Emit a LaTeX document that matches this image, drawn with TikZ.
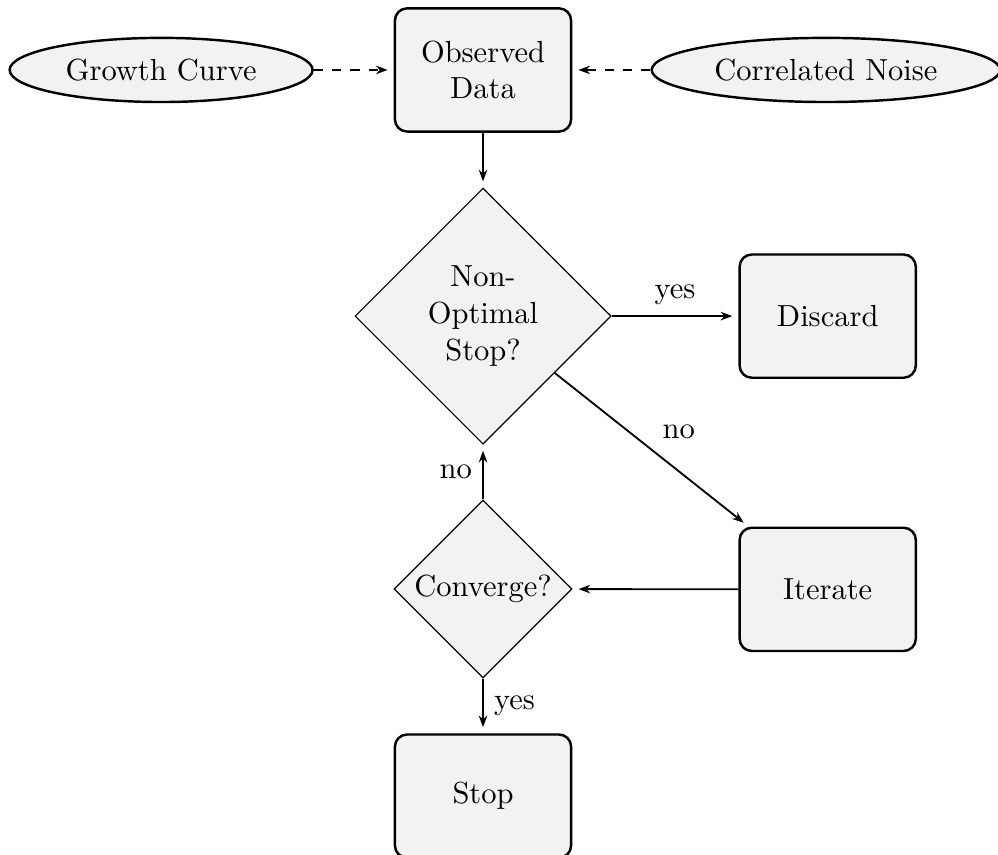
\documentclass[tikz,border=0pt]{standalone}
\usetikzlibrary{arrows.meta, positioning, shapes.geometric}
\tikzset{
    >=Stealth,
    node distance=0.63cm and 1.46cm,
    flow_box/.style={
        rectangle,
        rounded corners,
        draw=black,
        fill=gray!10,
        thick,
        minimum width=2.03cm,
        minimum height=1.42cm,
        text width=1.6cm,
        align=center
    },
    flow_decision/.style={
        diamond,
        draw=black,
        fill=gray!10,
        thin,
        inner sep=0pt,
        align=center
    },
    flow_source/.style={
        ellipse,
        draw=black,
        fill=gray!10,
        thick,
        inner sep=3.8pt
    },
    flow_arrow/.style={
        -{Stealth[length=3.8pt, width=2.8pt]},
        semithick,
        shorten >=2pt
    },
    flow_dashed_arrow/.style={
        -{Stealth[length=3.8pt, width=2.8pt]},
        semithick,
        dashed,
        shorten >=2pt
    }
}

\begin{document}
\begin{tikzpicture}

\useasboundingbox (-5.565,0.806) rectangle (5.933,-9.044);

% Data and its sources
\node[flow_box] (Observed) {Observed\\Data};
\node[flow_source, left=0.92cm of Observed] (Growth) {Growth Curve};
\node[flow_source, right=0.9cm of Observed] (Noise) {Correlated Noise};

% Decisions
\node[flow_decision, minimum size=2.95cm, below=of Observed] (NonOpt) {Non-\\Optimal\\Stop?};
\node[flow_box, right=of NonOpt] (Discard) {Discard};
\node[flow_box, below=1.7cm of Discard] (Iterate) {Iterate};
\node[flow_decision, minimum size=2.05cm, below=of NonOpt] (Converge) {Converge?};
\node[flow_box, below=of Converge] (Stop) {Stop};

% Edges
\draw[flow_dashed_arrow] (Growth) -- (Observed);
\draw[flow_dashed_arrow] (Noise) -- (Observed);
\draw[flow_arrow] (Observed) -- (NonOpt);
\draw[flow_arrow] (NonOpt) -- node[midway, above] {yes} (Discard);
\draw[flow_arrow] (NonOpt) -- node[midway, above right] {no} (Iterate);
\draw[flow_arrow] (Iterate) -- (Converge);
\draw[flow_arrow] (Converge) -- node[midway, left] {no} (NonOpt);
\draw[flow_arrow] (Converge) -- node[midway, right] {yes} (Stop);

\end{tikzpicture}
\end{document}
